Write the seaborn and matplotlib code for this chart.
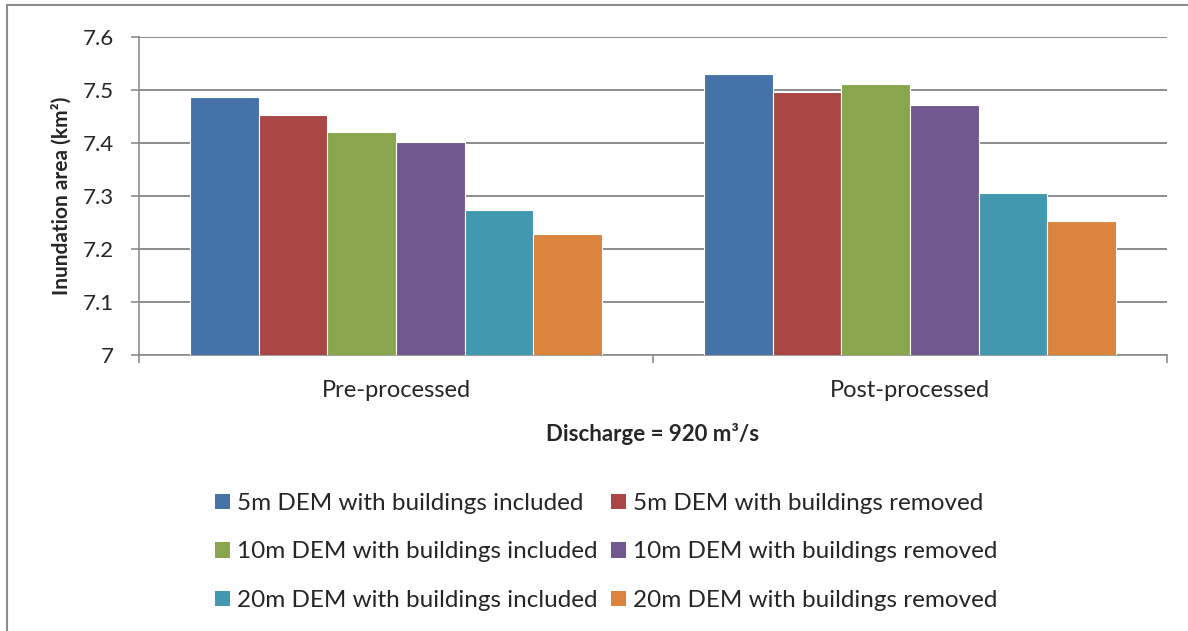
import matplotlib
matplotlib.use("Agg")
import matplotlib.pyplot as plt
import seaborn as sns
import pandas as pd
from matplotlib.patches import Rectangle, Patch

categories = ["Pre-processed", "Post-processed"]
series = [
    "5m DEM with buildings included",
    "5m DEM with buildings removed",
    "10m DEM with buildings included",
    "10m DEM with buildings removed",
    "20m DEM with buildings included",
    "20m DEM with buildings removed",
]
pre_values = [7.486, 7.452, 7.421, 7.402, 7.273, 7.229]
post_values = [7.531, 7.496, 7.511, 7.471, 7.305, 7.252]
colors = ["#4572A7", "#AA4643", "#89A54E", "#71588F", "#4198AF", "#DB843D"]
y_ticks = [7.0, 7.1, 7.2, 7.3, 7.4, 7.5, 7.6]
y_ticklabels = ["7", "7.1", "7.2", "7.3", "7.4", "7.5", "7.6"]

rows = []
for s, v in zip(series, pre_values):
    rows.append({"cat": categories[0], "series": s, "value": v})
for s, v in zip(series, post_values):
    rows.append({"cat": categories[1], "series": s, "value": v})
df = pd.DataFrame(rows)

sns.set_theme(style="white")
plt.rcParams["font.family"] = ["Lato", "DejaVu Sans"]

fig = plt.figure(figsize=(11.88, 6.31), dpi=100)
ax = fig.add_axes([139/1188, 1-355/631, (1167-139)/1188, (355-37)/631])

sns.barplot(data=df, x="cat", y="value", hue="series", order=categories,
            hue_order=series, palette=colors, saturation=1, ax=ax, width=0.8,
            edgecolor="white", linewidth=0.8, legend=False, zorder=3)

ax.set_ylim(7.0, 7.6)
ax.set_xlim(-0.5, 1.5)
ax.set_yticks(y_ticks)
ax.set_yticklabels(y_ticklabels, fontsize=16)
ax.yaxis.grid(True, color="#8c8c8c", linewidth=1.4, zorder=0)
ax.set_axisbelow(True)
ax.tick_params(axis="y", length=6, width=1.2, color="#8c8c8c", pad=12, left=True)
ax.set_xticks([0, 1])
ax.set_xticklabels(categories, fontsize=17)
ax.tick_params(axis="x", which="major", length=0, pad=18)
ax.set_xticks([-0.5, 0.5, 1.5], minor=True)
ax.tick_params(axis="x", which="minor", length=6, width=1.2, color="#8c8c8c", bottom=True)

for side in ["top", "right"]:
    ax.spines[side].set_visible(False)
for side in ["left", "bottom"]:
    ax.spines[side].set_color("#8c8c8c")
    ax.spines[side].set_linewidth(1.2)

ax.set_ylabel("Inundation area (km²)", fontsize=15, fontweight="bold", labelpad=8)
ax.set_xlabel("Discharge = 920 m³/s", fontsize=16, fontweight="bold", labelpad=16)

order = [0, 2, 4, 1, 3, 5]
handles = [Patch(facecolor=colors[i], edgecolor="none") for i in order]
labels = [series[i] for i in order]
fig.legend(handles, labels, loc="center", bbox_to_anchor=(606/1188, 1-552/631),
           ncol=2, frameon=False, fontsize=17.5, handlelength=0.62, handleheight=0.62,
           handletextpad=0.3, columnspacing=0.55, labelspacing=1.13, borderpad=0)

fig.patches.append(Rectangle((7/1188, -0.05), 1.2, 1-5/631+0.05, transform=fig.transFigure,
                             fill=False, edgecolor="#8c8c8c", linewidth=1.5))

fig.savefig("out.png", dpi=100, facecolor="white")
